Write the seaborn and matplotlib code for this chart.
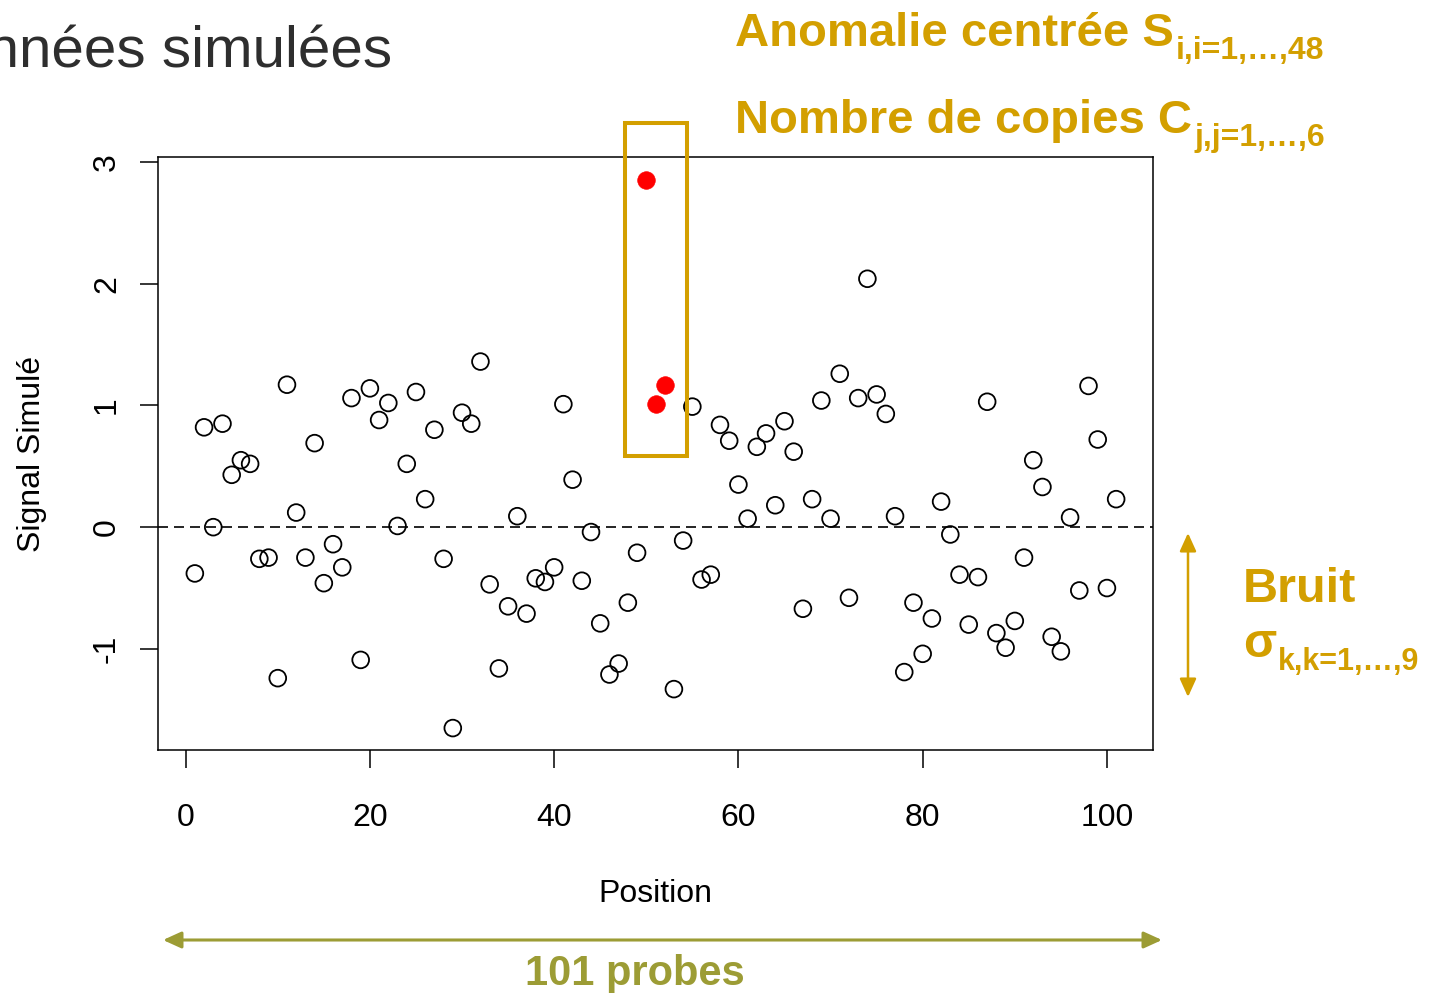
import numpy as np
import pandas as pd
import matplotlib
matplotlib.use("Agg")
import matplotlib.pyplot as plt
import seaborn as sns
from matplotlib.patches import Rectangle, FancyArrowPatch

# ---- data -------------------------------------------------------------
position = np.arange(1, 102)
signal = [
    -0.38, 0.82, 0.00, 0.85, 0.43, 0.55, 0.52, -0.26, -0.25, -1.24,
    1.17, 0.12, -0.25, 0.69, -0.46, -0.14, -0.33, 1.06, -1.09, 1.14,
    0.88, 1.02, 0.01, 0.52, 1.11, 0.23, 0.80, -0.26, -1.65, 0.94,
    0.85, 1.36, -0.47, -1.16, -0.65, 0.09, -0.71, -0.42, -0.45, -0.33,
    1.01, 0.39, -0.44, -0.04, -0.79, -1.21, -1.12, -0.62, -0.21, 2.85,
    1.01, 1.17, -1.33, -0.11, 0.99, -0.43, -0.39, 0.84, 0.71, 0.35,
    0.07, 0.66, 0.77, 0.18, 0.87, 0.62, -0.67, 0.23, 1.04, 0.07,
    1.26, -0.58, 1.06, 2.04, 1.09, 0.93, 0.09, -1.19, -0.62, -1.04,
    -0.75, 0.21, -0.06, -0.39, -0.80, -0.41, 1.03, -0.87, -0.99, -0.77,
    -0.25, 0.55, 0.33, -0.90, -1.02, 0.08, -0.52, 1.16, 0.72, -0.50, 0.23,
]
anomaly_positions = [50, 51, 52]
x_ticks = [0, 20, 40, 60, 80, 100]
y_ticks = [-1, 0, 1, 2, 3]

# highlighted window around the anomaly (data units)
box_x = (47.66, 54.40)
box_y = (0.583, 3.32)

GOLD = "#D39F00"
OLIVE = "#9C9C35"
W, H = 1431, 993

sns.set_style("ticks")
plt.rcParams["font.family"] = ["Liberation Sans", "DejaVu Sans"]
plt.rcParams["text.color"] = "black"
plt.rcParams["axes.labelcolor"] = "black"

fig = plt.figure(figsize=(W / 100, H / 100), dpi=100)
ax = fig.add_axes([158 / W, 1 - 750 / H, (1153 - 158) / W, (750 - 157) / H])

df = pd.DataFrame({"Position": position, "Signal": signal})
df["anomalie"] = df["Position"].isin(anomaly_positions)

sns.scatterplot(data=df[~df["anomalie"]], x="Position", y="Signal", ax=ax,
                s=145, facecolor="none", edgecolor="black", linewidth=1.3,
                zorder=3, legend=False)
sns.scatterplot(data=df[df["anomalie"]], x="Position", y="Signal", ax=ax,
                s=160, color="#FF0000", edgecolor="#FF0000", linewidth=0.5,
                zorder=3, legend=False)

ax.axhline(0, color="black", lw=1.2, ls=(0, (6, 3.6)), zorder=2)

ax.set_xlim(-3, 105)
ax.set_ylim(-1.83, 3.04)
ax.set_xticks(x_ticks)
ax.set_xticklabels([str(v) for v in x_ticks])
ax.set_yticks(y_ticks)
ax.set_yticklabels([str(v) for v in y_ticks], rotation=90, va="center")

for side in ["left", "right", "top", "bottom"]:
    ax.spines[side].set_visible(True)
    ax.spines[side].set_linewidth(1.1)
    ax.spines[side].set_color("black")

ax.tick_params(axis="both", direction="out", length=13, width=1.1,
               labelsize=23, colors="black")
ax.tick_params(axis="x", pad=25)
ax.tick_params(axis="y", pad=13)

ax.set_xlabel("Position", fontsize=23)
ax.set_ylabel("Signal Simulé", fontsize=23)
ax.xaxis.set_label_coords(0.5, -0.218)
ax.yaxis.set_label_coords(-0.112, 0.5)

# highlight box around the anomaly
ax.add_patch(Rectangle((box_x[0], box_y[0]), box_x[1] - box_x[0],
                       box_y[1] - box_y[0], fill=False, edgecolor=GOLD,
                       lw=2.9, clip_on=False, zorder=4))


def fpos(px, py):
    return px / W, 1 - py / H


# title (runs off the left edge)
fig.text(*fpos(392, 68), "Données simulées", ha="right", va="baseline",
         fontsize=42, color="#2E2E2E")

renderer = fig.canvas.get_renderer()


def label_with_sub(px, py, main, sub, size, sub_size, drop, color):
    t = fig.text(*fpos(px, py), main, ha="left", va="baseline",
                 fontsize=size, fontweight="bold", color=color)
    bb = t.get_window_extent(renderer)
    fig.text(bb.x1 / W + 2 / W, 1 - (py + drop) / H, sub, ha="left",
             va="baseline", fontsize=sub_size, fontweight="bold", color=color)


label_with_sub(735, 46, "Anomalie centrée S", "i,i=1,…,48", 34, 23, 13, GOLD)
label_with_sub(735, 133, "Nombre de copies C", "j,j=1,…,6", 34, 23, 13, GOLD)

fig.text(*fpos(1243, 602), "Bruit", ha="left", va="baseline",
         fontsize=35, fontweight="bold", color=GOLD)
label_with_sub(1243, 657, "σ", "k,k=1,…,9", 35, 22, 13, GOLD)

fig.text(*fpos(635, 985), "101 probes", ha="center", va="baseline",
         fontsize=30, fontweight="bold", color=OLIVE)

# double-headed arrows
fig.add_artist(FancyArrowPatch(fpos(1188, 533), fpos(1188, 697),
                               transform=fig.transFigure,
                               arrowstyle="<|-|>,head_length=0.55,head_width=0.25",
                               mutation_scale=20, lw=1.8, color=GOLD,
                               shrinkA=0, shrinkB=0))
fig.add_artist(FancyArrowPatch(fpos(163, 940), fpos(1162, 940),
                               transform=fig.transFigure,
                               arrowstyle="<|-|>,head_length=0.55,head_width=0.25",
                               mutation_scale=20, lw=2.2, color=OLIVE,
                               shrinkA=0, shrinkB=0))

fig.savefig("out.png", dpi=100, facecolor="white")
